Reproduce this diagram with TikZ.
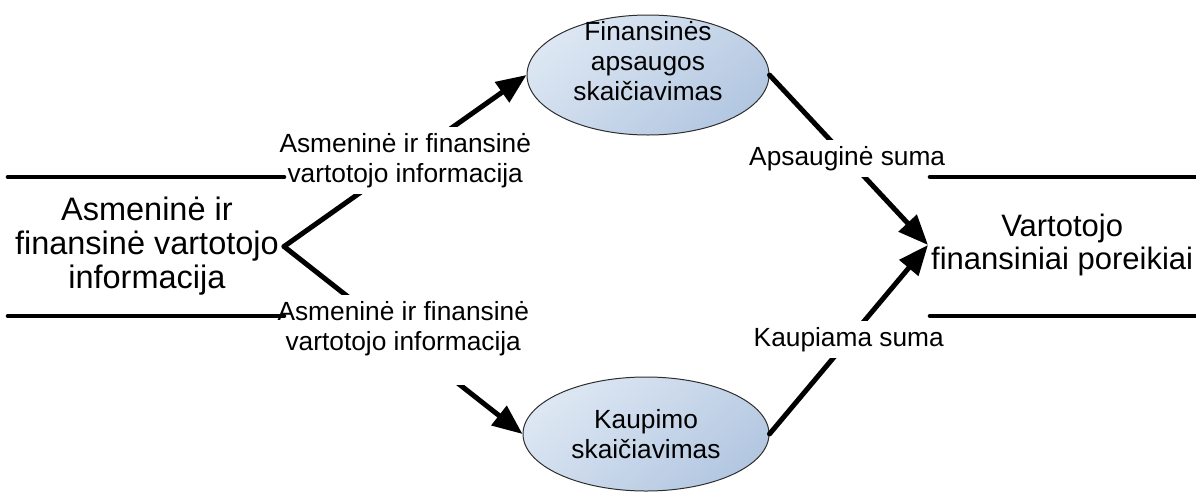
\documentclass[tikz,border=0pt]{standalone}
\usepackage{fontspec}
\setmainfont{Liberation Sans}
\usetikzlibrary{arrows.meta,shapes.geometric}
\definecolor{bubbleA}{HTML}{DDE7F3}
\definecolor{bubbleB}{HTML}{B3C7E1}
\definecolor{bubbleEdge}{HTML}{2E2E2E}
\begin{document}
\begin{tikzpicture}[x=1pt,y=-1pt,
  bigtext/.style={font=\fontsize{32.5}{34}\selectfont, align=center},
  smalltext/.style={font=\fontsize{26.3}{30}\selectfont, align=center},
  process/.style={ellipse, draw=bubbleEdge, line width=1pt, smalltext,
    inner sep=-15pt, top color=bubbleA, bottom color=bubbleB, shading angle=40},
  flow/.style={line width=5pt, line cap=round, -{Triangle[length=30pt,width=24pt]}},
  flowlabel/.style={smalltext, fill=white, inner xsep=3pt, inner ysep=6pt},
  storeline/.style={line width=4.6pt, line cap=round}
]
\useasboundingbox (0,0) rectangle (1196,493);

% processes
\node[process, minimum width=242pt, minimum height=120pt, text depth=28pt]
  (fin) at (648,75) {Finansinės\\apsaugos\\skaičiavimas};
\node[process, minimum width=246pt, minimum height=114pt]
  (kaup) at (646,434) {Kaupimo\\skaičiavimas};

% data stores (text)
\node[bigtext, anchor=east, inner xsep=5pt, inner ysep=0pt]
  (src) at (284,246.5) {Asmeninė ir\\finansinė vartotojo\\informacija};
\node[bigtext, font=\fontsize{31}{33}\selectfont, anchor=west, inner xsep=3pt, inner ysep=0pt]
  (dst) at (928,245) {Vartotojo\\finansiniai poreikiai};

% data flows
\draw[flow] (src.east) -- node[flowlabel, pos=0.5] (lab1)
  {Asmeninė ir finansinė\\vartotojo informacija} (fin.west);
\draw[flow] (src.east) -- node[flowlabel, pos=0.5, text depth=29pt] (lab2)
  {Asmeninė ir finansinė\\vartotojo informacija} (kaup.west);
\draw[flow] (fin.east) -- node[flowlabel, pos=0.49] (lab3)
  {Apsauginė suma} (dst.west);
\draw[flow] (kaup.east) -- node[flowlabel, pos=0.5] (lab4)
  {Kaupiama suma} (dst.west);

% data store rails
\draw[storeline] (8,177) -- (284,177);
\draw[storeline] (8,316) -- (284,316);
\draw[storeline] (930,177) -- (1200,177);
\draw[storeline] (930,316) -- (1200,316);
\end{tikzpicture}
\end{document}
